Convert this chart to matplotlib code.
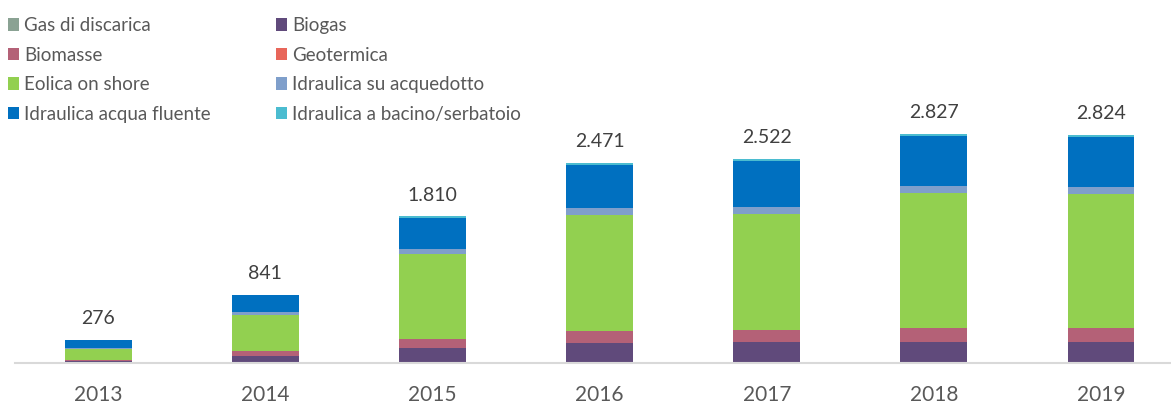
import matplotlib
matplotlib.use("Agg")
import matplotlib.pyplot as plt
import numpy as np
from matplotlib.patches import Patch

years = ["2013", "2014", "2015", "2016", "2017", "2018", "2019"]
gas_discarica = [0, 0, 0, 0, 0, 0, 0]
biogas = [20, 85, 186, 239, 252, 252, 252]
biomasse = [17, 58, 107, 152, 149, 181, 177]
geotermica = [0, 0, 0, 0, 0, 0, 0]
eolica = [130, 450, 1047, 1440, 1440, 1667, 1664]
acquedotto = [14, 33, 70, 83, 87, 87, 83]
acqua_fluente = [95, 210, 380, 532, 574, 623, 619]
bacino = [0, 5, 20, 25, 20, 17, 29]
totals = ["276", "841", "1.810", "2.471", "2.522", "2.827", "2.824"]

series = [
    ("Gas di discarica", gas_discarica, "#8AA293"),
    ("Biogas", biogas, "#604A7B"),
    ("Biomasse", biomasse, "#B46177"),
    ("Geotermica", geotermica, "#E8665A"),
    ("Eolica on shore", eolica, "#92D050"),
    ("Idraulica su acquedotto", acquedotto, "#7F9FCB"),
    ("Idraulica acqua fluente", acqua_fluente, "#0070C0"),
    ("Idraulica a bacino/serbatoio", bacino, "#4BBCD0"),
]

plt.rcParams['font.family'] = ['Lato', 'DejaVu Sans']
W, H = 1171, 403
fig = plt.figure(figsize=(W / 100, H / 100), dpi=100)
left_px, right_px = 14.7, 1184.6
base_px = 362.7
ax = fig.add_axes([left_px / W, (H - base_px) / H, (right_px - left_px) / W, base_px / H])

x = np.arange(len(years))
bottom = np.zeros(len(years))
for name, vals, col in series:
    v = np.array(vals, dtype=float)
    ax.bar(x, v, width=0.4, bottom=bottom, color=col, linewidth=0, label=name)
    bottom += v

for xi, tot, lab in zip(x, bottom, totals):
    ax.text(xi, tot + 160, lab, ha="center", va="bottom", fontsize=14, color="#404040")

px_per_unit = 228.4 / 2827
ax.set_ylim(0, base_px / px_per_unit)
ax.set_xlim(-0.5, len(years) - 0.5)
ax.set_xticks(x)
ax.set_xticklabels(years, fontsize=15, color="#595959")
ax.tick_params(axis="x", length=0, pad=16)
ax.set_yticks([])
for s in ["left", "right", "top"]:
    ax.spines[s].set_visible(False)
ax.spines["bottom"].set_color("#D9D9D9")
ax.spines["bottom"].set_linewidth(1.5)

order = [0, 2, 4, 6, 1, 3, 5, 7]
handles = [Patch(facecolor=series[i][2]) for i in order]
labels = [series[i][0] for i in order]
fig.legend(handles, labels, loc="upper left", bbox_to_anchor=(8 / W, 1 - 17 / H), ncol=2,
           frameon=False, fontsize=13.5, handlelength=0.6, handleheight=0.65,
           handletextpad=0.25, columnspacing=3.5, labelspacing=0.67, labelcolor="#595959",
           borderpad=0, borderaxespad=0)

fig.savefig("out.png", dpi=100)
